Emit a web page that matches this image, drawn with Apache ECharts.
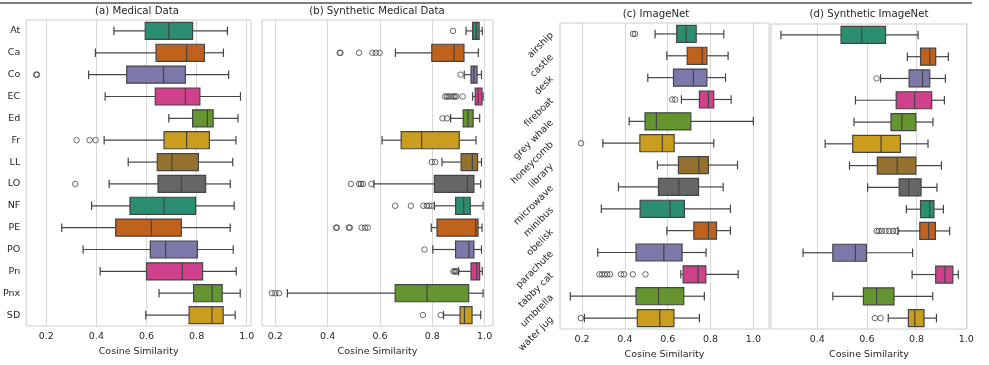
<!DOCTYPE html>
<html>
<head>
<meta charset="utf-8">
<script src="https://cdn.jsdelivr.net/npm/echarts@6/dist/echarts.min.js"></script>
<style>
  html, body { margin: 0; padding: 0; background: #fff; }
  #chart { width: 989px; height: 365px; }
</style>
</head>
<body>
<div id="chart"></div>
<script>
// box stats per row: [lower whisker, Q1, median, Q3, upper whisker]
const medicalCats = ['At', 'Ca', 'Co', 'EC', 'Ed', 'Fr', 'LL', 'LO', 'NF', 'PE', 'PO', 'Pn', 'Pnx', 'SD'];
const medicalStats = [
  [0.470, 0.595, 0.689, 0.784, 0.923],
  [0.396, 0.638, 0.760, 0.831, 0.907],
  [0.369, 0.521, 0.668, 0.755, 0.928],
  [0.435, 0.635, 0.755, 0.813, 0.975],
  [0.689, 0.784, 0.843, 0.866, 0.965],
  [0.431, 0.670, 0.760, 0.851, 0.957],
  [0.527, 0.643, 0.701, 0.807, 0.944],
  [0.451, 0.646, 0.739, 0.836, 0.934],
  [0.381, 0.534, 0.670, 0.796, 0.950],
  [0.262, 0.477, 0.619, 0.739, 0.934],
  [0.347, 0.615, 0.676, 0.803, 0.946],
  [0.415, 0.600, 0.743, 0.824, 0.958],
  [0.650, 0.788, 0.862, 0.902, 0.974],
  [0.597, 0.770, 0.861, 0.906, 0.954]
];
// outliers: [value, row index]
const medicalOutliers = [
  [0.160, 2], [0.163, 2],
  [0.321, 5], [0.373, 5], [0.397, 5],
  [0.316, 7]
];

const synthMedicalStats = [
  [0.929, 0.954, 0.968, 0.979, 0.991],
  [0.659, 0.798, 0.883, 0.921, 0.976],
  [0.922, 0.948, 0.959, 0.971, 0.988],
  [0.954, 0.964, 0.975, 0.990, 0.994],
  [0.870, 0.918, 0.936, 0.956, 0.981],
  [0.608, 0.681, 0.759, 0.903, 0.967],
  [0.837, 0.910, 0.953, 0.973, 0.988],
  [0.577, 0.808, 0.934, 0.959, 0.985],
  [0.808, 0.889, 0.920, 0.945, 0.994],
  [0.796, 0.818, 0.966, 0.975, 0.990],
  [0.802, 0.889, 0.940, 0.959, 0.988],
  [0.900, 0.948, 0.970, 0.981, 0.991],
  [0.246, 0.658, 0.780, 0.939, 0.994],
  [0.843, 0.906, 0.923, 0.952, 0.985]
];
const synthMedicalOutliers = [
  [0.879, 0],
  [0.446, 1], [0.449, 1], [0.520, 1], [0.571, 1], [0.584, 1], [0.599, 1],
  [0.908, 2],
  [0.849, 3], [0.856, 3], [0.862, 3], [0.872, 3], [0.881, 3], [0.886, 3], [0.892, 3], [0.916, 3],
  [0.839, 4], [0.856, 4],
  [0.798, 6], [0.811, 6],
  [0.489, 7], [0.520, 7], [0.527, 7], [0.535, 7], [0.567, 7],
  [0.658, 8], [0.718, 8], [0.766, 8], [0.779, 8], [0.788, 8], [0.798, 8],
  [0.432, 9], [0.435, 9], [0.481, 9], [0.485, 9], [0.530, 9], [0.543, 9], [0.553, 9],
  [0.770, 10],
  [0.881, 11], [0.885, 11], [0.889, 11], [0.894, 11],
  [0.187, 12], [0.200, 12], [0.214, 12],
  [0.764, 13], [0.832, 13]
];

const imagenetCats = ['airship', 'castle', 'desk', 'fireboat', 'grey whale', 'honeycomb', 'library',
  'microwave', 'minibus', 'obelisk', 'parachute', 'tabby cat', 'umbrella', 'water jug'];
const imagenetStats = [
  [0.541, 0.642, 0.686, 0.733, 0.862],
  [0.596, 0.691, 0.761, 0.783, 0.882],
  [0.507, 0.627, 0.720, 0.783, 0.870],
  [0.664, 0.748, 0.790, 0.815, 0.896],
  [0.420, 0.494, 0.547, 0.708, 1.000],
  [0.297, 0.470, 0.575, 0.630, 0.815],
  [0.552, 0.650, 0.745, 0.790, 0.926],
  [0.370, 0.557, 0.652, 0.744, 0.859],
  [0.290, 0.471, 0.611, 0.678, 0.893],
  [0.596, 0.722, 0.790, 0.828, 0.893],
  [0.273, 0.452, 0.582, 0.667, 0.779],
  [0.661, 0.672, 0.742, 0.778, 0.929],
  [0.145, 0.452, 0.557, 0.675, 0.771],
  [0.211, 0.458, 0.563, 0.629, 0.748]
];
const imagenetOutliers = [
  [0.438, 0], [0.448, 0],
  [0.621, 3], [0.635, 3],
  [0.195, 5],
  [0.281, 11], [0.293, 11], [0.306, 11], [0.318, 11], [0.331, 11], [0.382, 11], [0.396, 11], [0.437, 11], [0.496, 11],
  [0.194, 13]
];

const synthImagenetStats = [
  [0.254, 0.496, 0.579, 0.675, 0.806],
  [0.763, 0.816, 0.853, 0.877, 0.928],
  [0.655, 0.770, 0.824, 0.853, 0.916],
  [0.554, 0.718, 0.792, 0.861, 0.912],
  [0.548, 0.697, 0.741, 0.797, 0.866],
  [0.432, 0.543, 0.657, 0.735, 0.846],
  [0.530, 0.642, 0.722, 0.797, 0.900],
  [0.603, 0.730, 0.769, 0.818, 0.882],
  [0.759, 0.816, 0.853, 0.870, 0.908],
  [0.725, 0.813, 0.849, 0.876, 0.933],
  [0.343, 0.463, 0.554, 0.598, 0.784],
  [0.782, 0.877, 0.914, 0.946, 0.968],
  [0.463, 0.586, 0.639, 0.709, 0.865],
  [0.686, 0.767, 0.793, 0.830, 0.880]
];
const synthImagenetOutliers = [
  [0.639, 2],
  [0.639, 9], [0.648, 9], [0.660, 9], [0.675, 9], [0.690, 9], [0.705, 9], [0.719, 9],
  [0.632, 13], [0.655, 13]
];

const xTicks = [0.2, 0.4, 0.6, 0.8, 1.0];

// Dark2 at seaborn's 0.75 saturation
const palette = ['#2b8e70', '#be621d', '#7c78aa', '#cf418a', '#65952f', '#ca9d1f', '#957130', '#666666'];
const edge = '#444444';
const textColor = '#262626';
const font = 'DejaVu Sans';

const panels = [
  { title: '(a) Medical Data', cats: medicalCats, stats: medicalStats, outliers: medicalOutliers,
    grid: { left: 23, top: 20, width: 228, height: 306 }, min: 0.120, max: 1.017,
    titleX: 137, titleY: 6, showCats: true, rotate: 0, labelMargin: 7.5 },
  { title: '(b) Synthetic Medical Data', cats: medicalCats, stats: synthMedicalStats, outliers: synthMedicalOutliers,
    grid: { left: 262, top: 20, width: 231, height: 306 }, min: 0.149, max: 1.032,
    titleX: 377, titleY: 6, showCats: false, rotate: 0, labelMargin: 7.5 },
  { title: '(c) ImageNet', cats: imagenetCats, stats: imagenetStats, outliers: imagenetOutliers,
    grid: { left: 560, top: 23, width: 209, height: 306 }, min: 0.097, max: 1.073,
    titleX: 656, titleY: 9, showCats: true, rotate: 45, labelMargin: 8 },
  { title: '(d) Synthetic ImageNet', cats: imagenetCats, stats: synthImagenetStats, outliers: synthImagenetOutliers,
    grid: { left: 771, top: 24, width: 196, height: 305 }, min: 0.214, max: 1.003,
    titleX: 869, titleY: 9, showCats: false, rotate: 0, labelMargin: 8 }
];

function renderBox(params, api) {
  const c = api.value(0);
  const xs = [1, 2, 3, 4, 5].map(d => api.coord([api.value(d), c])[0]);
  const y = api.coord([api.value(3), c])[1];
  const band = api.size([0, 1])[1];
  const h = band * 0.78;
  const cap = h * 0.5;
  const line = (x1, y1, x2, y2) => ({
    type: 'line', shape: { x1, y1, x2, y2 }, style: { stroke: edge, lineWidth: 1.2 }
  });
  return {
    type: 'group',
    children: [
      line(xs[0], y, xs[1], y),
      line(xs[3], y, xs[4], y),
      line(xs[0], y - cap / 2, xs[0], y + cap / 2),
      line(xs[4], y - cap / 2, xs[4], y + cap / 2),
      {
        type: 'rect',
        shape: { x: xs[1], y: y - h / 2, width: xs[3] - xs[1], height: h },
        style: { fill: palette[c % palette.length], stroke: edge, lineWidth: 1.2 }
      },
      line(xs[2], y - h / 2, xs[2], y + h / 2)
    ]
  };
}

const chart = echarts.init(document.getElementById('chart'));

const option = {
  animation: false,
  backgroundColor: '#fff',
  textStyle: { fontFamily: font, color: textColor },
  title: panels.map(p => ({
    text: p.title,
    left: p.titleX,
    top: p.titleY,
    padding: 0,
    textAlign: 'center',
    textStyle: { fontFamily: font, fontSize: 10.2, fontWeight: 'normal', color: textColor }
  })),
  graphic: [{
    type: 'line',
    shape: { x1: 0, y1: 3, x2: 972, y2: 3 },
    style: { stroke: '#555', lineWidth: 1.5 }
  }],
  grid: panels.map(p => Object.assign({ show: true, borderColor: '#cccccc', borderWidth: 1 }, p.grid)),
  xAxis: panels.map((p, i) => ({
    type: 'value',
    gridIndex: i,
    min: p.min,
    max: p.max,
    name: 'Cosine Similarity',
    nameLocation: 'middle',
    nameGap: 19,
    nameTextStyle: { fontFamily: font, fontSize: 9.5, color: textColor },
    axisLine: { show: false },
    axisTick: { show: false, customValues: xTicks },
    axisLabel: {
      customValues: xTicks,
      margin: p.labelMargin - 2,
      fontFamily: font, fontSize: 9.5, color: textColor,
      formatter: v => v.toFixed(1)
    },
    splitLine: { show: true, lineStyle: { color: '#d8d8d8', width: 1 } }
  })),
  yAxis: panels.map((p, i) => ({
    type: 'category',
    gridIndex: i,
    data: p.cats,
    inverse: true,
    axisLine: { show: false },
    axisTick: { show: false },
    splitLine: { show: false },
    axisLabel: {
      show: p.showCats,
      rotate: p.rotate,
      margin: p.rotate ? 8 : 6,
      interval: 0,
      fontFamily: font, fontSize: 9.5, color: textColor
    }
  })),
  series: panels.flatMap((p, i) => [
    {
      type: 'custom',
      xAxisIndex: i,
      yAxisIndex: i,
      renderItem: renderBox,
      encode: { y: 0, x: [1, 2, 3, 4, 5] },
      data: p.stats.map((s, k) => [k].concat(s)),
      z: 2
    },
    {
      type: 'scatter',
      xAxisIndex: i,
      yAxisIndex: i,
      symbol: 'circle',
      symbolSize: 5.5,
      itemStyle: { color: 'rgba(0,0,0,0)', borderColor: edge, borderWidth: 1 },
      data: p.outliers,
      z: 3
    }
  ])
};

chart.setOption(option);
</script>
</body>
</html>
